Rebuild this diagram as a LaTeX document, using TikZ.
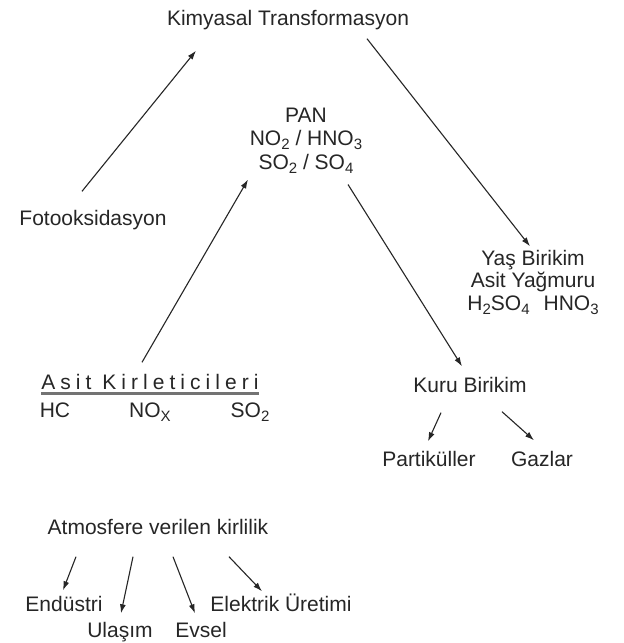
\documentclass[tikz,border=0pt]{standalone}
\usepackage{fontspec}
\setmainfont{Liberation Sans}
\usetikzlibrary{arrows.meta,positioning}
\newcommand{\chsub}[1]{\raisebox{-0.35ex}{\fontsize{15}{15}\selectfont #1}}

\begin{document}
\begin{tikzpicture}[x=1pt,y=-1pt,node distance=8pt,font=\fontsize{21}{24}\selectfont,text=black!85]

\tikzstyle{word}=[inner sep=0pt,text height=15pt,text depth=0pt]
\tikzstyle{flow}=[-{Latex[length=9pt,width=6pt]},line width=1.1pt,draw=black!85]

\useasboundingbox[fill=white](0,0)rectangle(624,643);

% top of the cycle
\node[word](kimya)at(288,18){Kimyasal Transformasyon};
\node[word](foto)at(93,218){Fotooksidasyon};

\node[word](pan)at(306,115){PAN};
\node[word](no)[below=of pan]{NO\chsub{2} / HNO\chsub{3}};
\node[word](so)[below=of no]{SO\chsub{2} / SO\chsub{4}};

\node[word](yas)at(533,258){Yaş Birikim};
\node[word](yagmur)[below=7pt of yas]{Asit Yağmuru};
\node[word](asitler)[below=7pt of yagmur]{H\chsub{2}SO\chsub{4}\hspace{14pt}HNO\chsub{3}};

% sources
\node[word](kirl)at(150,382){\addfontfeatures{LetterSpace=24}Asit Kirleticileri};
\node[word](hc)at(55,410){HC};
\node[word](nox)at(150,410){NO\chsub{X}};
\node[word](so2)at(250,410){SO\chsub{2}};

\node[word](kuru)at(470,385){Kuru Birikim};
\node[word](part)at(429,459){Partiküller};
\node[word](gaz)at(542,459){Gazlar};

\node[word](atmo)at(158,527){Atmosfere verilen kirlilik};
\node[word](endu)at(64,604){Endüstri};
\node[word](elek)at(281,604){Elektrik Üretimi};
\node[word](ulas)at(120,630){Ulaşım};
\node[word](evsel)at(201,630){Evsel};

\draw[black!55,line width=2.6pt]([shift={(0,4)}]kirl.south west)--([shift={(0,4)}]kirl.south east);

\draw[flow]([shift={(-11,-19)}]foto.north)--([shift={(-92,25)}]kimya.south);
\draw[flow]([shift={(79,13)}]kimya.south)--([shift={(-3,-4)}]yas.north);
\draw[flow]([shift={(-8,-12)}]kirl.north)--([shift={(-58,10)}]so.south);
\draw[flow]([shift={(42,15)}]so.south)--([shift={(-8,-11)}]kuru.north);
\draw[flow]([shift={(-29,20)}]kuru.south)--([shift={(-1,-10)}]part.north);
\draw[flow]([shift={(32,19)}]kuru.south)--([shift={(-8,-11)}]gaz.north);

\draw[flow]([shift={(-82,22)}]atmo.south)--([shift={(-1,-6)}]endu.north);
\draw[flow]([shift={(-25,22)}]atmo.south)--([shift={(1,-9)}]ulas.north);
\draw[flow]([shift={(15,22)}]atmo.south)--([shift={(-6,-9)}]evsel.north);
\draw[flow]([shift={(71,22)}]atmo.south)--([shift={(-19,-5)}]elek.north);

\end{tikzpicture}
\end{document}
